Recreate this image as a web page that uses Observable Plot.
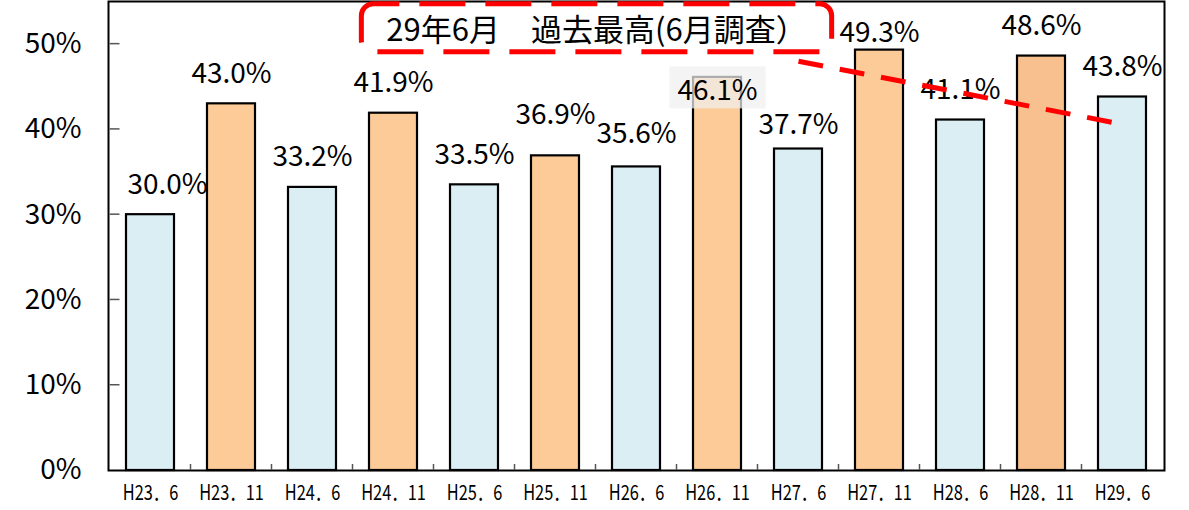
<!DOCTYPE html>
<html><head><meta charset="utf-8">
<script src="https://cdn.jsdelivr.net/npm/d3@7"></script>
<script src="https://cdn.jsdelivr.net/npm/@observablehq/plot@0.6"></script>
<style>html,body{margin:0;padding:0;background:#fff} svg{display:block}</style>
</head><body><div id="chart"></div>
<script>
const categories = ["H23．6","H23．11","H24．6","H24．11","H25．6","H25．11","H26．6","H26．11","H27．6","H27．11","H28．6","H28．11","H29．6"];
const values = [30.0,43.0,33.2,41.9,33.5,36.9,35.6,46.1,37.7,49.3,41.1,48.6,43.8];
const surveyMonth = ["6月","11月","6月","11月","6月","11月","6月","11月","6月","11月","6月","11月","6月"];
const yTicks = [0,10,20,30,40,50];
const highlighted = "H28．11";
const shadedLabel = "H26．11";
const annotationText = "29年6月　過去最高(6月調査）";
const annotationAt = {x: "H25．11", y: 51.5};
const calloutFrom = {x: "H27．6", y: 48.0};
const calloutTo = {x: "H29．6", y: 40.6};
// label placement nudges (pixels) as in the original layout
const labelNudge = {"H23．6": [17, 0], "H25．11": [0, -11], "H26．6": [0, -3], "H26．11": [0, 44], "H27．6": [0, 6], "H27．11": [0, 13]};

const data = categories.map((c, i) => ({cat: c, value: values[i], month: surveyMonth[i]}));
const FONT = "'Noto Sans CJK JP', 'Noto Sans', sans-serif";
const fillOf = d => d.cat === highlighted ? "#F9C08F" : (d.month === "6月" ? "#DAEEF3" : "#FDCB97");
const labelText = d => d.value.toFixed(1) + "%";
const labelOpts = {x: "cat", y: "value", text: labelText, lineAnchor: "bottom", fontSize: 28, fill: "#000"};

const labelMarks = [Plot.text(data.filter(d => !labelNudge[d.cat]), {...labelOpts, dy: -21})];
data.filter(d => labelNudge[d.cat]).forEach(d => {
  const [ndx, ndy] = labelNudge[d.cat];
  labelMarks.push(Plot.text([d], {...labelOpts, dx: ndx, dy: -21 + ndy}));
});

const plot = Plot.plot({
  width: 1189, height: 510,
  marginLeft: 108, marginRight: 25, marginTop: 1, marginBottom: 40,
  style: {fontFamily: FONT, background: "#fff", color: "#000", overflow: "visible"},
  x: {domain: categories, paddingInner: 0.41, paddingOuter: 0.205, label: null},
  y: {domain: [0, 55], label: null},
  marks: [
    Plot.barY(data, {x: "cat", y: "value", fill: fillOf, stroke: "#000", strokeWidth: 2.2}),
    Plot.frame({stroke: "#000", strokeWidth: 2}),
    Plot.axisY(yTicks, {tickSize: 0, tickPadding: 27, tickFormat: d => d + "%", fontSize: 28, fill: "#000"}),
    Plot.axisX({tickSize: 0, tickPadding: 15, fontSize: 21, fill: "#000"}),
    ...labelMarks,
    Plot.link([0], {x1: () => calloutFrom.x, y1: () => calloutFrom.y, x2: () => calloutTo.x, y2: () => calloutTo.y,
      stroke: "#FF0000", strokeWidth: 5, strokeDasharray: "25 17"}),
    Plot.text([annotationText], {x: () => annotationAt.x, y: () => annotationAt.y, dx: 41, fontSize: 31, fill: "#000"})
  ]
});
document.getElementById("chart").append(plot);

// Post-render details drawn through Plot's own scales
const svg = d3.select(plot);
const xs = plot.scale("x"), ys = plot.scale("y");
const bw = xs.bandwidth, step = xs.step;
const y0 = ys.apply(0);
const xLeft = xs.apply(categories[0]) - (step - bw) / 2;
const tg = svg.append("g").attr("stroke", "#555").attr("stroke-width", 1.5);
yTicks.filter(t => t > 0).forEach(t => {
  tg.append("line").attr("x1", xLeft).attr("x2", xLeft + 10).attr("y1", ys.apply(t)).attr("y2", ys.apply(t));
});
categories.slice(1).forEach(c => {
  const xb = xs.apply(c) - (step - bw) / 2;
  tg.append("line").attr("x1", xb).attr("x2", xb).attr("y1", y0).attr("y2", y0 - 6);
});

// condensed x tick labels
plot.querySelectorAll('g[aria-label="x-axis tick label"] text').forEach(t => {
  const tr = t.getAttribute("transform") || "";
  t.setAttribute("transform", tr + " scale(0.78,1)");
});

const svgRect = plot.getBoundingClientRect();
const texts = Array.from(plot.querySelectorAll("text"));
const anno = texts.find(t => t.textContent === annotationText);
if (anno) {
  const r = anno.getBoundingClientRect();
  const cx = r.left - svgRect.left + r.width / 2;
  const cy = r.top - svgRect.top + r.height / 2;
  const w = r.width + 50, h = 48;
  svg.append("rect").attr("x", cx - w / 2).attr("y", cy - h / 2).attr("width", w).attr("height", h)
    .attr("rx", 12).attr("fill", "none").attr("stroke", "#FF0000").attr("stroke-width", 5)
    .attr("stroke-dasharray", "46 20").attr("stroke-dashoffset", 20);
}
const shadedVal = labelText(data[categories.indexOf(shadedLabel)]);
const sl = texts.find(t => t.textContent === shadedVal);
if (sl) {
  const r = sl.getBoundingClientRect();
  let top = sl;
  while (top.parentNode && top.parentNode !== plot) top = top.parentNode;
  const bg = document.createElementNS("http://www.w3.org/2000/svg", "rect");
  bg.setAttribute("x", r.left - svgRect.left - 8);
  bg.setAttribute("y", r.top - svgRect.top - 2);
  bg.setAttribute("width", r.width + 16);
  bg.setAttribute("height", r.height + 2);
  bg.setAttribute("fill", "rgba(240,240,240,0.72)");
  plot.insertBefore(bg, top);
}
</script></body></html>
